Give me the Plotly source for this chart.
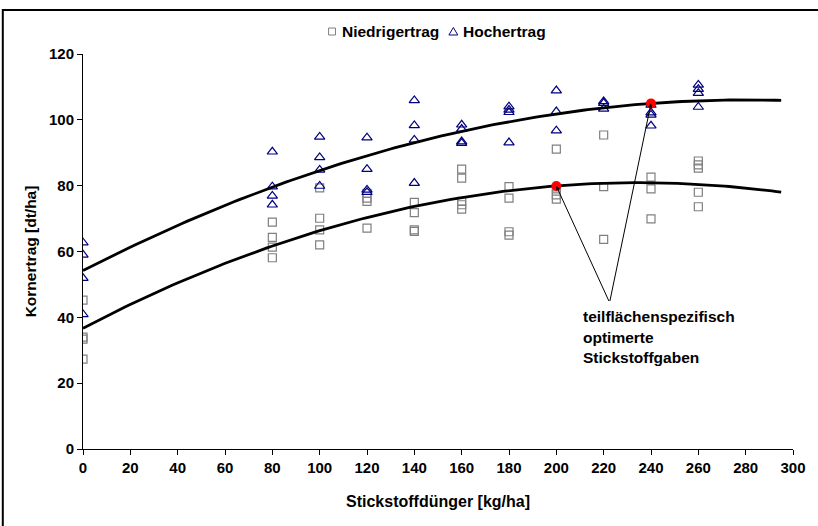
import numpy as np
import plotly.graph_objects as go

# Stickstoffdüngung (kg/ha) and Kornertrag (dt/ha) per Teilfläche
n_low = [0, 0, 0, 0,
         80, 80, 80, 80,
         100, 100, 100, 100,
         120, 120, 120, 120,
         140, 140, 140, 140,
         160, 160, 160, 160, 160,
         180, 180, 180, 180,
         200, 200, 200, 200,
         220, 220, 220,
         240, 240, 240,
         260, 260, 260, 260, 260]
y_low = [45.2, 34.0, 33.4, 27.3,
         68.9, 64.3, 61.3, 58.1,
         79.3, 70.1, 66.6, 62.0,
         77.7, 76.2, 75.2, 67.1,
         74.9, 71.8, 66.6, 66.1,
         85.0, 82.3, 75.2, 74.2, 72.9,
         79.7, 76.2, 66.0, 65.0,
         91.1, 79.0, 77.2, 75.9,
         95.4, 79.7, 63.7,
         82.6, 79.0, 69.9,
         87.5, 86.3, 85.3, 78.0, 73.6]

n_high = [0, 0, 0, 0,
          80, 80, 80, 80,
          100, 100, 100, 100,
          120, 120, 120, 120,
          140, 140, 140, 140,
          160, 160, 160, 160,
          180, 180, 180, 180,
          200, 200, 200,
          220, 220, 220,
          240, 240, 240, 240,
          260, 260, 260, 260]
y_high = [62.7, 59.0, 51.9, 40.9,
          90.3, 79.7, 76.9, 74.2,
          94.8, 88.6, 84.8, 79.9,
          94.6, 85.0, 78.7, 78.0,
          105.9, 98.3, 93.9, 80.8,
          98.5, 97.2, 93.4, 92.9,
          104.0, 103.0, 102.3, 93.1,
          108.9, 102.5, 96.7,
          105.6, 105.1, 103.3,
          104.5, 102.2, 101.5, 98.2,
          110.6, 109.3, 108.1, 103.9]

# quadratic trend equations y = c0 + c1*N + c2*N^2
trend_low = [36.7, 0.3762, -0.0008004]
trend_high = [54.2, 0.370, -0.00066]
trend_range = [0, 295]

# teilflächenspezifisch optimierte Stickstoffgaben
n_opt = [200, 240]
y_opt = [79.9, 105.0]

x_ticks = list(range(0, 301, 20))
y_ticks = list(range(0, 121, 20))

x_fit = np.linspace(trend_range[0], trend_range[1], 149)
fit_low = np.polynomial.polynomial.polyval(x_fit, trend_low)
fit_high = np.polynomial.polynomial.polyval(x_fit, trend_high)

font_family = "Liberation Sans, Arial, sans-serif"
text_size = 15.5

fig = go.Figure()
fig.add_trace(go.Scatter(
    x=n_low, y=y_low, mode="markers", name="Niedrigertrag",
    marker=dict(symbol="square-open", size=8, color="#808080",
                line=dict(width=1.2, color="#808080")),
))
fig.add_trace(go.Scatter(
    x=n_high, y=y_high, mode="markers", name="Hochertrag",
    marker=dict(symbol="triangle-up-open", size=9, color="#000080",
                line=dict(width=1.2, color="#000080")),
))
fig.add_trace(go.Scatter(
    x=x_fit, y=fit_low, mode="lines", showlegend=False,
    line=dict(color="black", width=2.8), hoverinfo="skip",
))
fig.add_trace(go.Scatter(
    x=x_fit, y=fit_high, mode="lines", showlegend=False,
    line=dict(color="black", width=2.8), hoverinfo="skip",
))
fig.add_trace(go.Scatter(
    x=n_opt, y=y_opt, mode="markers", showlegend=False,
    marker=dict(symbol="circle", size=10, color="#ff0000"),
))

# arrows from the label to the optimised rates
vertex_x, vertex_y = 222.5, 44.5
for xo, yo in zip(n_opt, y_opt):
    fig.add_annotation(
        x=xo, y=yo, ax=vertex_x, ay=vertex_y, xref="x", yref="y",
        axref="x", ayref="y", showarrow=True, arrowhead=2, arrowsize=0.8,
        arrowwidth=1, arrowcolor="black", text="",
    )

bold = dict(family=font_family, size=text_size, color="black", weight="bold")

label_lines = ["teilflächenspezifisch", "optimerte", "Stickstoffgaben"]
label_y = [40.4, 34.0, 27.8]
for txt, ly in zip(label_lines, label_y):
    fig.add_annotation(
        x=210.3, y=ly, xref="x", yref="y", text=txt, showarrow=False,
        xanchor="left", yanchor="middle", align="left", font=bold,
    )

# compact legend row above the plot area (paper coordinates)
plot_l, plot_w, plot_b, plot_h = 83, 717, 449, 395


def px(x):
    return (x - plot_l) / plot_w


def py(y):
    return (plot_b - y) / plot_h


legend_y = 31.5
legend_shapes = [
    dict(type="rect", xref="paper", yref="paper",
         x0=px(331), x1=px(338), y0=py(35), y1=py(28),
         line=dict(color="#808080", width=1), fillcolor="rgba(0,0,0,0)"),
    dict(type="path", xref="paper", yref="paper",
         path=(f"M {px(452.5)} {py(35)} L {px(461.5)} {py(35)} "
               f"L {px(457)} {py(27.5)} Z"),
         line=dict(color="#000080", width=1), fillcolor="rgba(0,0,0,0)"),
]
for txt, lx in [("Niedrigertrag", 343), ("Hochertrag", 465)]:
    fig.add_annotation(
        x=px(lx), y=py(legend_y), xref="paper", yref="paper", text=txt,
        showarrow=False, xanchor="left", yanchor="middle", font=bold,
    )

axis_font = dict(family=font_family, size=15, color="black", weight="bold")
title_font = dict(family=font_family, size=16, color="black", weight="bold")

fig.update_layout(
    width=818, height=526,
    margin=dict(l=plot_l, r=818 - plot_l - plot_w, t=54, b=526 - plot_b),
    paper_bgcolor="white", plot_bgcolor="white",
    showlegend=False,
    xaxis=dict(
        range=[0, 300], tickvals=x_ticks, ticks="outside", ticklen=5,
        tickcolor="black", showline=True, linecolor="black", linewidth=1,
        showgrid=False, zeroline=False, tickfont=axis_font,
        title=dict(text="Stickstoffdünger [kg/ha]", font=title_font, standoff=20),
    ),
    yaxis=dict(
        range=[0, 120], tickvals=y_ticks, ticks="outside", ticklen=5,
        tickcolor="black", showline=True, linecolor="black", linewidth=1,
        showgrid=False, zeroline=False, tickfont=axis_font,
        title=dict(text="Kornertrag [dt/ha]", font=bold, standoff=8),
    ),
    shapes=legend_shapes + [dict(
        type="rect", xref="paper", yref="paper",
        x0=px(2), x1=px(830), y0=py(560), y1=py(10),
        line=dict(color="black", width=2), fillcolor="rgba(0,0,0,0)",
        layer="below",
    )],
)

fig.write_html("out.html")
